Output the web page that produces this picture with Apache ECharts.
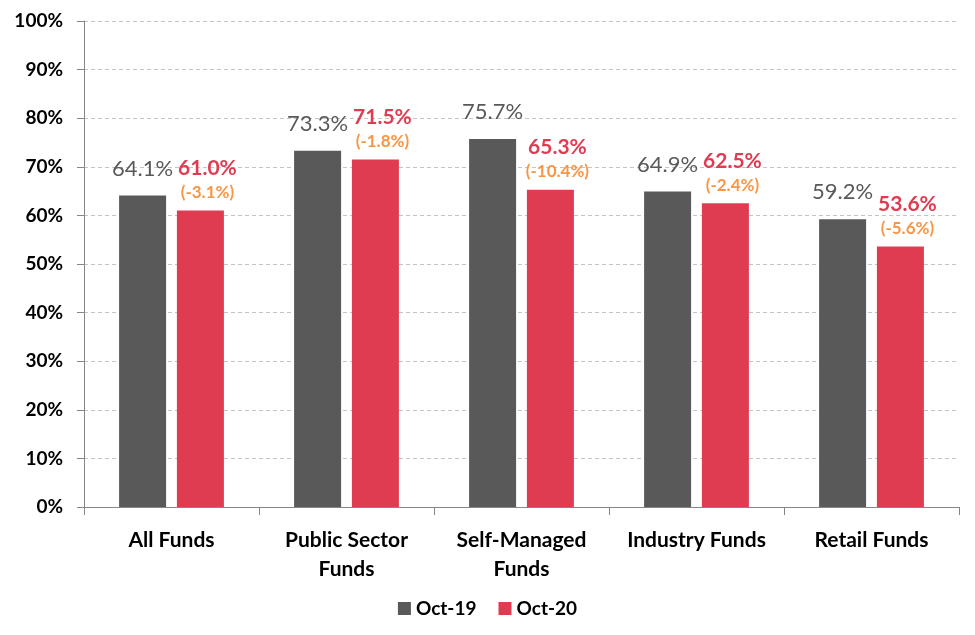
<!DOCTYPE html>
<html>
<head>
<meta charset="utf-8">
<script src="https://cdn.jsdelivr.net/npm/echarts@6/dist/echarts.min.js"></script>
<style>
  html, body { margin: 0; padding: 0; background: #fff; }
  #main { width: 975px; height: 635px; }
</style>
</head>
<body>
<div id="main"></div>
<script>
var categories = ['All Funds', 'Public Sector\nFunds', 'Self-Managed\nFunds', 'Industry Funds', 'Retail Funds'];
var oct19 = [64.1, 73.3, 75.7, 64.9, 59.2];
var oct20 = [61.0, 71.5, 65.3, 62.5, 53.6];
var change = ['-3.1', '-1.8', '-10.4', '-2.4', '-5.6'];

var font = 'Lato, "Open Sans", sans-serif';
var myChart = echarts.init(document.getElementById('main'));

var option = {
  textStyle: { fontFamily: font },
  color: ['#595959', '#E03C51'],
  grid: { left: 84, right: 16, top: 21, bottom: 128 },
  legend: {
    bottom: 12,
    itemWidth: 13,
    itemHeight: 13,
    itemGap: 22,
    icon: 'rect',
    textStyle: { fontSize: 19, fontWeight: 'bold', color: '#000', fontFamily: font },
    data: ['Oct-19', 'Oct-20']
  },
  xAxis: {
    type: 'category',
    data: categories,
    axisLine: { lineStyle: { color: '#868686' } },
    axisTick: { show: true, length: 8, lineStyle: { color: '#868686' } },
    axisLabel: {
      interval: 0,
      fontSize: 21, fontWeight: 'bold', color: '#000', margin: 19, lineHeight: 29,
      fontFamily: font
    }
  },
  yAxis: {
    type: 'value',
    min: 0,
    max: 100,
    interval: 10,
    axisLine: { show: true, lineStyle: { color: '#868686' } },
    axisTick: { show: true, length: 7, lineStyle: { color: '#868686' } },
    axisLabel: {
      formatter: '{value}%', fontSize: 19, fontWeight: 'bold', color: '#000', margin: 21,
      fontFamily: font
    },
    splitLine: { lineStyle: { type: [4, 3], color: '#c4c4c4' } }
  },
  series: [
    {
      name: 'Oct-19',
      type: 'bar',
      data: oct19,
      barWidth: 47,
      barGap: '23%',
      label: {
        show: true,
        position: 'top',
        distance: 16,
        formatter: function (p) { return p.value.toFixed(1) + '%'; },
        fontSize: 22,
        color: '#595959',
        fontFamily: font
      }
    },
    {
      name: 'Oct-20',
      type: 'bar',
      data: oct20,
      barWidth: 47,
      label: {
        show: true,
        position: 'top',
        distance: 8,
        offset: [7, 0],
        formatter: function (p) {
          return '{v|' + p.value.toFixed(1) + '%}\n{c|(' + change[p.dataIndex] + '%)}';
        },
        rich: {
          v: { fontSize: 21, fontWeight: 'bold', color: '#E03C51', fontFamily: font, lineHeight: 28 },
          c: { fontSize: 17, fontWeight: 'bold', color: '#F79646', fontFamily: font, lineHeight: 20 }
        }
      }
    }
  ]
};

myChart.setOption(option);
</script>
</body>
</html>
